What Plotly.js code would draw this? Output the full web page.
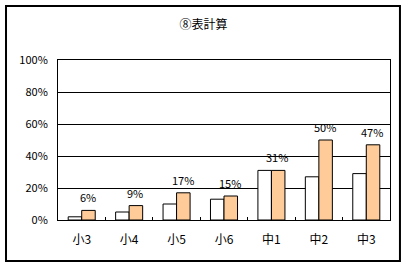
<!DOCTYPE html>
<html><head><meta charset="utf-8">
<script src="https://cdn.plot.ly/plotly-3.0.1.min.js"></script>
<style>html,body{margin:0;padding:0;background:#fff}</style>
</head><body>
<div id="chart" style="width:407px;height:266px"></div>
<script>
const categories = ['小3','小4','小5','小6','中1','中2','中3'];
const seriesA = [2, 5, 10, 13, 31, 27, 29];
const seriesB = [6, 9, 17, 15, 31, 50, 47];
const labelsB = ['6%','9%','17%','15%','31%','50%','47%'];
const yTicks = [0, 20, 40, 60, 80, 100];
const yTickText = ['0%','20%','40%','60%','80%','100%'];

const font = 'Noto Sans CJK JP, DejaVu Sans, sans-serif';
const traces = [
  {type:'bar', x:categories, y:seriesA, marker:{color:'#ffffff', line:{color:'#000', width:1}}, hoverinfo:'none'},
  {type:'bar', x:categories, y:seriesB, marker:{color:'#FFCC99', line:{color:'#000', width:1}}, hoverinfo:'none'}
];
const annotations = categories.map((c,i)=>({
  x:c, y:seriesB[i], xref:'x', yref:'y', text:labelsB[i], showarrow:false,
  xshift:6, yshift:13, font:{family:font, size:11, color:'#000'}
}));
const layout = {
  width:407, height:266,
  margin:{l:58, r:17, t:60, b:46},
  paper_bgcolor:'#fff', plot_bgcolor:'#fff',
  showlegend:false,
  barmode:'group', bargap:0.43, bargroupgap:0,
  title:{text:'⑧表計算', x:0.5, xanchor:'center', y:0.905, yanchor:'middle', font:{family:font, size:12, color:'#000'}},
  xaxis:{type:'category', tickson:'boundaries', ticks:'inside', ticklen:3, tickcolor:'#000',
         showline:true, linecolor:'#000', linewidth:1, mirror:true, showgrid:false,
         tickfont:{family:font, size:12, color:'#000'}, ticklabelstandoff:9, fixedrange:true},
  yaxis:{range:[0,100], tickvals:yTicks, ticktext:yTickText, ticks:'', showgrid:true, gridcolor:'#000', gridwidth:1,
         showline:true, linecolor:'#000', linewidth:1, mirror:true, zeroline:false,
         tickfont:{family:font, size:11, color:'#000'}, ticklabelstandoff:7, fixedrange:true},
  annotations:annotations,
  shapes:[{type:'rect', xref:'paper', yref:'paper', x0:-0.1566, x1:1.030, y0:-0.256, y1:1.3375,
           line:{color:'#000', width:2}, fillcolor:'rgba(0,0,0,0)', layer:'below'}]
};
Plotly.newPlot('chart', traces, layout, {staticPlot:true, displayModeBar:false});
</script>
</body></html>
